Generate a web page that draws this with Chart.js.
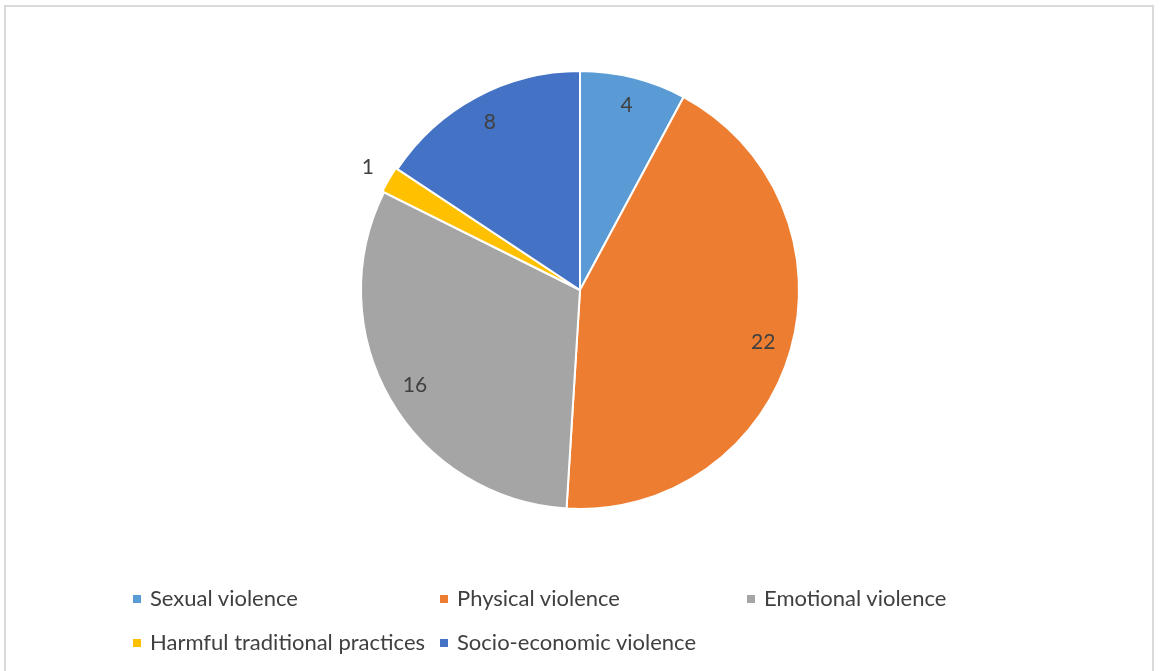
<!DOCTYPE html>
<html>
<head>
<meta charset="utf-8">
<script src="https://cdn.jsdelivr.net/npm/chart.js@4"></script>
<style>
    html, body { margin: 0; padding: 0; background: #fff; }
    #wrap { position: relative; width: 1160px; height: 671px; overflow: hidden; }
    #frame { position: absolute; left: 4px; top: 5px; width: 1150px; height: 680px; border: 2px solid #d9d9d9; box-sizing: border-box; }
    #pieChart { position: absolute; left: 0; top: 0; }
    #legend { position: absolute; left: 133px; top: 583px; font-family: Lato, "Open Sans", sans-serif; font-size: 22px; color: #404040; }
    .item { position: absolute; white-space: nowrap; height: 30px; line-height: 30px; }
    .box { display: inline-block; width: 8px; height: 8px; margin-right: 9px; vertical-align: 3px; }
</style>
</head>
<body>
<div id="wrap">
    <div id="frame"></div>
    <canvas id="pieChart" width="1160" height="671"></canvas>
    <div id="legend"></div>
</div>
<script>
const categories = ['Sexual violence', 'Physical violence', 'Emotional violence', 'Harmful traditional practices', 'Socio-economic violence'];
const values = [4, 22, 16, 1, 8];
const colors = ['#5B9BD5', '#ED7D31', '#A5A5A5', '#FFC000', '#4472C4'];

// Draw the value labels like Excel's "best fit"
const valueLabels = {
    id: 'valueLabels',
    afterDatasetsDraw(chart) {
        const ctx = chart.ctx;
        const meta = chart.getDatasetMeta(0);
        const total = values.reduce((a, b) => a + b, 0);
        ctx.save();
        ctx.font = '21px Lato, "Open Sans", sans-serif';
        ctx.fillStyle = '#404040';
        ctx.textAlign = 'center';
        ctx.textBaseline = 'middle';
        meta.data.forEach((arc, i) => {
            const p = arc.getProps(['x', 'y', 'startAngle', 'endAngle', 'outerRadius']);
            const mid = (p.startAngle + p.endAngle) / 2;
            const small = values[i] / total < 0.03;
            const r = small ? p.outerRadius + 26 : p.outerRadius * 0.87;
            ctx.fillText(String(values[i]), p.x + Math.cos(mid) * r, p.y + Math.sin(mid) * r);
        });
        ctx.restore();
    }
};

new Chart(document.getElementById('pieChart').getContext('2d'), {
    type: 'pie',
    data: {
        labels: categories,
        datasets: [{
            data: values,
            backgroundColor: colors,
            borderColor: '#ffffff',
            borderWidth: 2,
            offset: [0, 0, 0, 4, 0]
        }]
    },
    options: {
        responsive: false,
        animation: false,
        layout: {
            padding: { top: 68, bottom: 159, left: 300, right: 300 }
        },
        plugins: {
            legend: { display: false },
            tooltip: { enabled: false }
        }
    },
    plugins: [valueLabels]
});

// Legend laid out in a grid like the original
const legend = document.getElementById('legend');
categories.forEach((name, i) => {
    const item = document.createElement('div');
    item.className = 'item';
    item.style.left = (i % 3) * 307 + 'px';
    item.style.top = Math.floor(i / 3) * 44 + 'px';
    item.innerHTML = `<span class="box" style="background:${colors[i]}"></span>${name}`;
    legend.appendChild(item);
});
</script>
</body>
</html>
